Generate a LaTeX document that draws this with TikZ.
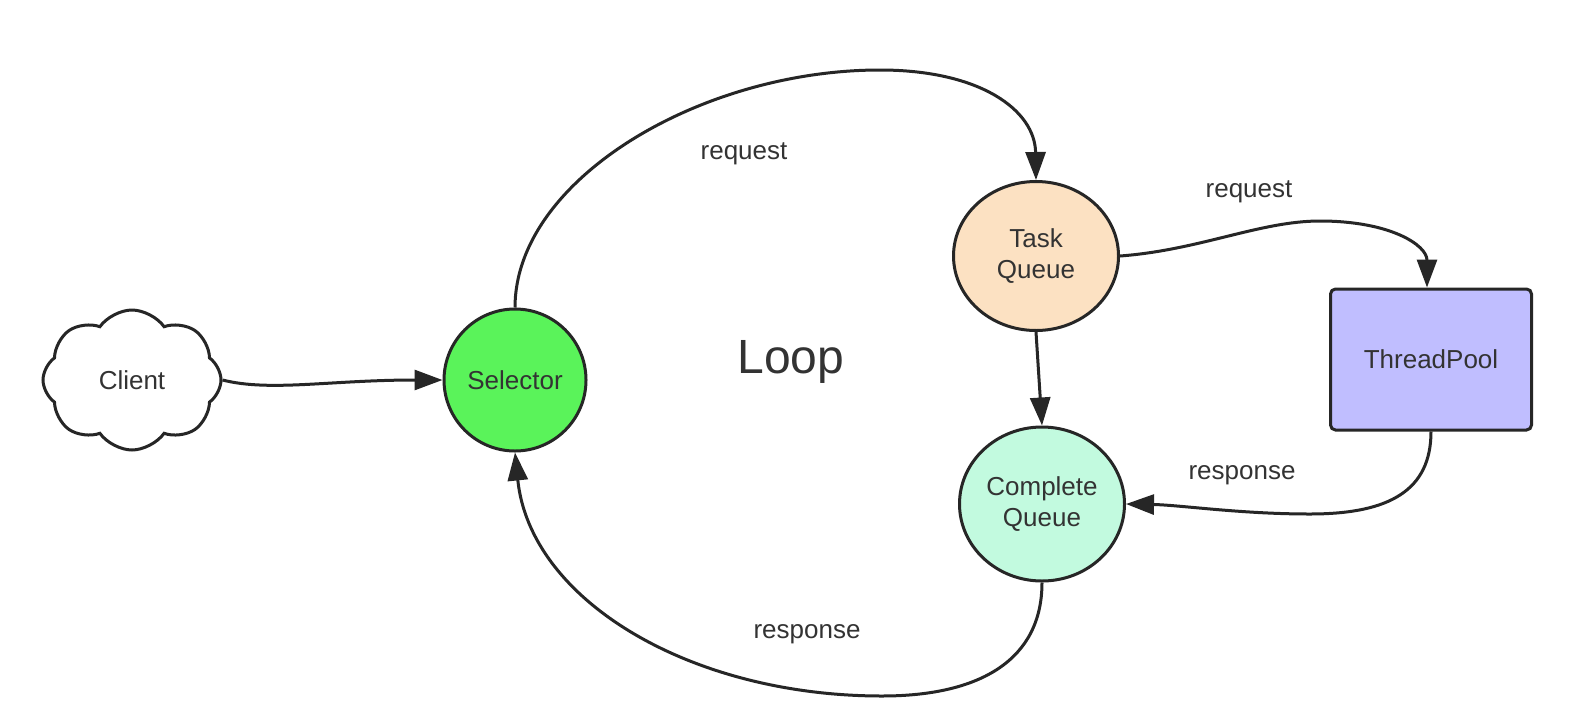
\documentclass[tikz,border=0pt]{standalone}
\usepackage{fontspec}
\setmainfont{Liberation Sans}
\usetikzlibrary{shapes.symbols,shapes.geometric,arrows.meta}
\definecolor{lineC}{HTML}{262626}
\definecolor{txtC}{HTML}{333333}
\definecolor{selG}{HTML}{5AF35A}
\definecolor{taskC}{HTML}{FCE1C2}
\definecolor{compC}{HTML}{C2FADF}
\definecolor{poolC}{HTML}{C0BEFF}
\tikzset{
  base/.style={draw=lineC, line width=3pt, text=txtC, font=\fontsize{26}{31}\selectfont, align=center, inner sep=0pt},
  circ/.style={base, ellipse},
  conn/.style={draw=lineC, line width=3pt, -{Triangle[length=28pt,width=20pt]}},
  lbl/.style={text=txtC, font=\fontsize{26}{31}\selectfont},
}
\begin{document}
\begin{tikzpicture}[x=1pt,y=-1pt]
\useasboundingbox (0,0) rectangle (1590,726);
\fill[white] (0,0) rectangle (1590,726);
\node[base, cloud, cloud puffs=8, cloud puff arc=110, aspect=1.27, minimum width=178pt, minimum height=140pt, fill=white] (client) at (132,380) {Client};
\node[circ, fill=selG, minimum width=142pt, minimum height=142pt] (sel) at (515,380) {Selector};
\node[circ, fill=taskC, minimum width=165pt, minimum height=149pt] (task) at (1036,256) {Task\\Queue};
\node[circ, fill=compC, minimum width=165pt, minimum height=154pt] (comp) at (1042,504) {Complete\\Queue};
\node[base, rectangle, rounded corners=5pt, fill=poolC, minimum width=201pt, minimum height=141pt] (pool) at (1431,359.5) {ThreadPool};
\node[text=txtC, font=\fontsize{48}{56}\selectfont] (loop) at (791,362) {Loop};
\node[lbl] (req1) at (744,154) {request};
\node[lbl] (req2) at (1249,192) {request};
\node[lbl] (resp1) at (1242,475) {response};
\node[lbl] (resp2) at (807,634) {response};
\draw[conn] (client.east) .. controls (270,392) and (330,380) .. (sel.west);
\draw[conn] (sel.north) .. controls (515,180) and (700,70) .. (880,70) .. controls (980,70) and (1035,110) .. (task.north);
\draw[conn] (task.east) .. controls (1200,250) and (1260,221) .. (1320,221) .. controls (1390,221) and (1427,245) .. ([xshift=-4pt]pool.north);
\draw[conn] (task.south) -- (comp.north);
\draw[conn] (pool.south) .. controls (1431,490) and (1390,514) .. (1310,514) .. controls (1240,514) and (1180,505) .. (comp.east);
\draw[conn] (comp.south) .. controls (1042,660) and (980,696) .. (882,696) .. controls (690,696) and (530,600) .. (sel.south);
\end{tikzpicture}
\end{document}
